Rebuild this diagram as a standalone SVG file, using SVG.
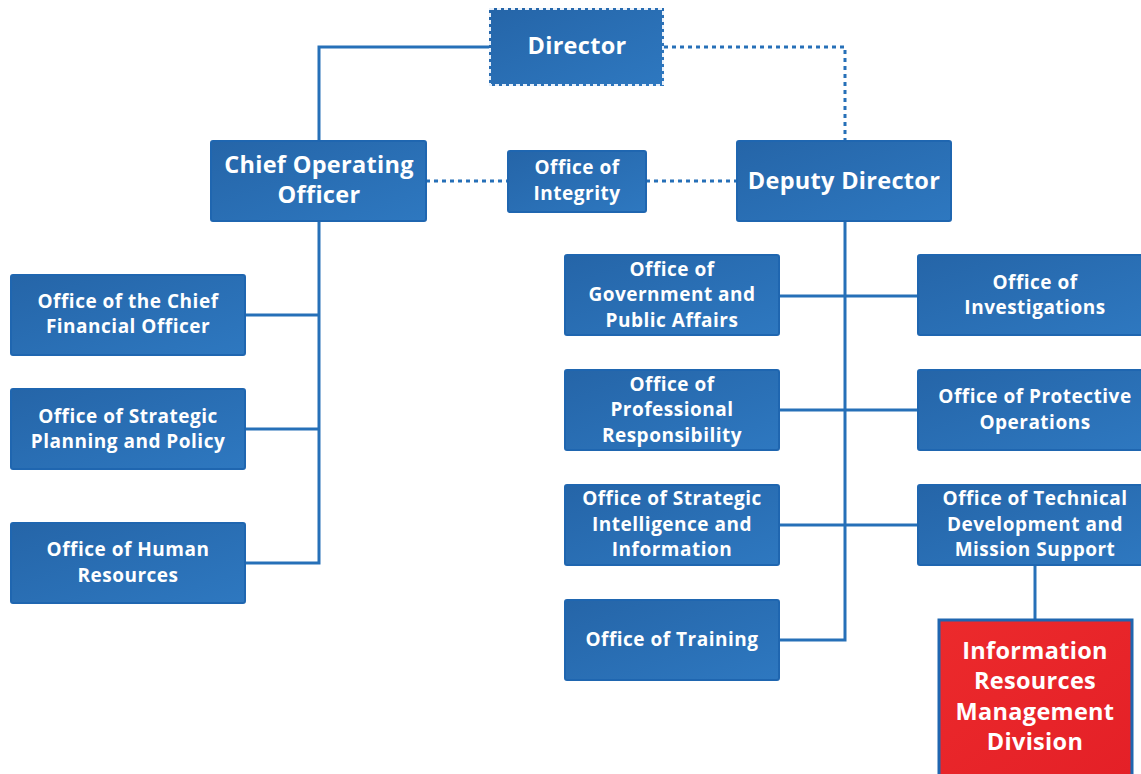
<svg xmlns="http://www.w3.org/2000/svg" width="1141" height="774" viewBox="0 0 1141 774">
<defs>
<linearGradient id="bg" x1="0" y1="0" x2="1" y2="1">
<stop offset="0" stop-color="#2565a8"/>
<stop offset="1" stop-color="#2e78c0"/>
</linearGradient>
<linearGradient id="rg" x1="0" y1="0" x2="1" y2="1">
<stop offset="0" stop-color="#ec2a2c"/>
<stop offset="1" stop-color="#e42027"/>
</linearGradient>
</defs>
<style>
.box{fill:url(#bg);stroke:#1f66b0;stroke-width:2}
.t{font-family:"Open Sans","DejaVu Sans",sans-serif;font-weight:700;fill:#fff;text-anchor:middle;font-size:19px;letter-spacing:0.5px}
.big{font-size:23.5px;letter-spacing:0.3px}
.ln{fill:none;stroke:#2670b8;stroke-width:3}
.dt{fill:none;stroke:#2670b8;stroke-width:3;stroke-dasharray:4 4}
</style>
<rect width="1141" height="774" fill="#fff"/>
<g id="connectors">
<path class="ln" d="M489 47 H319 V141"/>
<path class="dt" d="M664 47 H845 V141"/>
<path class="dt" d="M426 181 H508"/>
<path class="dt" d="M646 181 H737"/>
<path class="ln" d="M319 221 V563 H245 M245 315 H319 M245 429 H319"/>
<path class="ln" d="M845 221 V640 H779 M779 296 H918 M779 410 H918 M779 525 H918"/>
<path class="ln" d="M1035 565 V619"/>
</g>
<g id="director">
<rect x="489" y="8" width="175" height="78" fill="url(#bg)"/>
<rect x="490" y="9" width="173" height="76" fill="none" stroke="#e8f0fa" stroke-width="2" stroke-dasharray="4 3"/>
<text class="t big" x="577" y="54">Director</text>
</g>
<g id="coo">
<rect class="box" x="211" y="141" width="215" height="80" rx="2"/>
<text class="t big" x="319" y="173">Chief Operating</text>
<text class="t big" x="319" y="203">Officer</text>
</g>
<g id="integrity">
<rect class="box" x="508" y="151" width="138" height="61" rx="2"/>
<text class="t" x="577" y="174">Office of</text>
<text class="t" x="577" y="200">Integrity</text>
</g>
<g id="deputy">
<rect class="box" x="737" y="141" width="214" height="80" rx="2"/>
<text class="t big" x="844" y="189">Deputy Director</text>
</g>
<g id="cfo">
<rect class="box" x="11" y="275" width="234" height="80" rx="2"/>
<text class="t" x="128" y="308">Office of the Chief</text>
<text class="t" x="128" y="333">Financial Officer</text>
</g>
<g id="planning">
<rect class="box" x="11" y="389" width="234" height="80" rx="2"/>
<text class="t" x="128" y="423">Office of Strategic</text>
<text class="t" x="128" y="448">Planning and Policy</text>
</g>
<g id="hr">
<rect class="box" x="11" y="523" width="234" height="80" rx="2"/>
<text class="t" x="128" y="556">Office of Human</text>
<text class="t" x="128" y="582">Resources</text>
</g>
<g id="gov">
<rect class="box" x="565" y="255" width="214" height="80" rx="2"/>
<text class="t" x="672" y="276">Office of</text>
<text class="t" x="672" y="301">Government and</text>
<text class="t" x="672" y="327">Public Affairs</text>
</g>
<g id="prof">
<rect class="box" x="565" y="370" width="214" height="80" rx="2"/>
<text class="t" x="672" y="391">Office of</text>
<text class="t" x="672" y="416">Professional</text>
<text class="t" x="672" y="442">Responsibility</text>
</g>
<g id="intel">
<rect class="box" x="565" y="485" width="214" height="80" rx="2"/>
<text class="t" x="672" y="505">Office of Strategic</text>
<text class="t" x="672" y="531">Intelligence and</text>
<text class="t" x="672" y="556">Information</text>
</g>
<g id="training">
<rect class="box" x="565" y="600" width="214" height="80" rx="2"/>
<text class="t" x="672" y="646">Office of Training</text>
</g>
<g id="investigations">
<rect class="box" x="918" y="255" width="226" height="80" rx="2"/>
<text class="t" x="1035" y="289">Office of</text>
<text class="t" x="1035" y="314">Investigations</text>
</g>
<g id="protective">
<rect class="box" x="918" y="370" width="226" height="80" rx="2"/>
<text class="t" x="1035" y="403">Office of Protective</text>
<text class="t" x="1035" y="429">Operations</text>
</g>
<g id="technical">
<rect class="box" x="918" y="485" width="226" height="80" rx="2"/>
<text class="t" x="1035" y="505">Office of Technical</text>
<text class="t" x="1035" y="531">Development and</text>
<text class="t" x="1035" y="556">Mission Support</text>
</g>
<g id="irm">
<rect x="939" y="620" width="193" height="156" fill="url(#rg)" stroke="#1f66b0" stroke-width="3"/>
<text class="t big" x="1035" y="659">Information</text>
<text class="t big" x="1035" y="689">Resources</text>
<text class="t big" x="1035" y="720">Management</text>
<text class="t big" x="1035" y="750">Division</text>
</g>
</svg>
